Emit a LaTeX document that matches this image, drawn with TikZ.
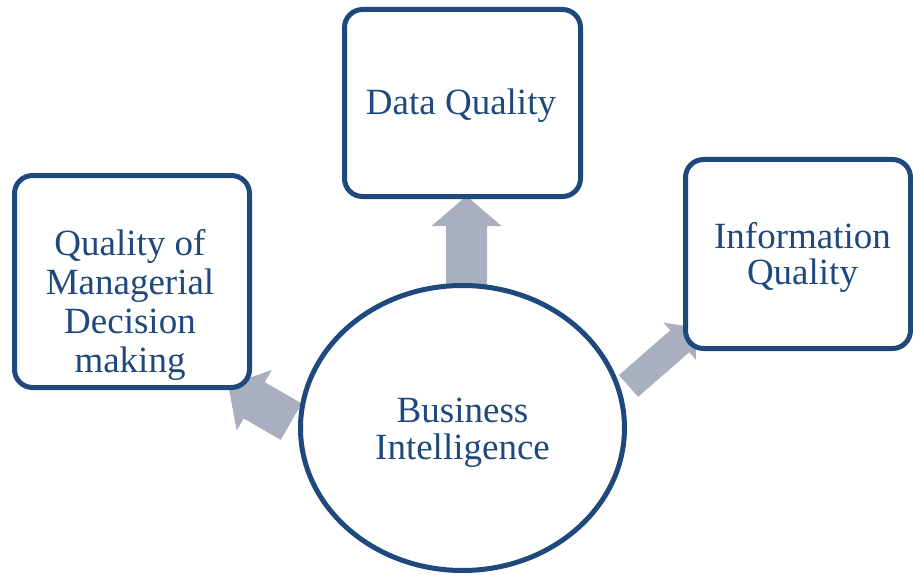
\documentclass[tikz,border=0pt]{standalone}
\usepackage{fontspec}
\setmainfont{Liberation Serif}
\usetikzlibrary{shapes.geometric}
\definecolor{bdr}{HTML}{1F497D}
\definecolor{arrfill}{HTML}{A9AFBF}
\newcommand\blockarrow[6]{%
  \begin{scope}[shift={(#1)}, rotate=#2]
    \fill[arrfill] (0,-#4/2) -- ({#3-#6},-#4/2) -- ({#3-#6},-#5/2) -- (#3,0)
      -- ({#3-#6},#5/2) -- ({#3-#6},#4/2) -- (0,#4/2) -- cycle;
  \end{scope}}
\begin{document}
\begin{tikzpicture}[x=1pt,y=-1pt,
  box/.style={draw=bdr, line width=5pt, rounded corners=18pt, fill=white,
    inner sep=0pt, rectangle},
  hub/.style={draw=bdr, line width=5pt, fill=white, ellipse, inner sep=0pt},
  lbl/.style={text=bdr, align=center, inner sep=0pt}]
\useasboundingbox (0,0) rectangle (913,575);
% arrow tails
\coordinate (tup) at (466.5,300);
\coordinate (tright) at (628.5,386);
\coordinate (tleft) at (291.2,421.7);
\blockarrow{tup}{90}{104}{41}{70}{30}
\blockarrow{tright}{41.1}{89}{29}{49.5}{21}
\blockarrow{tleft}{149.9}{72.7}{42}{70}{30}
% shapes
\node[box, minimum width=236pt, minimum height=187pt] (dq) at (462.5,103) {};
\node[box, minimum width=225pt, minimum height=189pt] (iq) at (798,254) {};
\node[box, minimum width=235pt, minimum height=212pt] (qm) at (132,281.5) {};
\node[hub, minimum width=324pt, minimum height=285pt] (bi) at (462.5,428) {};
% labels
\node[lbl, font=\fontsize{37}{37}\selectfont, anchor=base] (dqt) at (461,115) {Data Quality};
\node[lbl, font=\fontsize{37}{36.5}\selectfont] (iqt) at (802.5,257.5) {Information\\Quality};
\node[lbl, font=\fontsize{37}{39}\selectfont] (qmt) at (130,305) {Quality of\\Managerial\\Decision\\making};
\node[lbl, font=\fontsize{37}{37.5}\selectfont] (bit) at (462.5,432.5) {Business\\Intelligence};
\end{tikzpicture}
\end{document}
